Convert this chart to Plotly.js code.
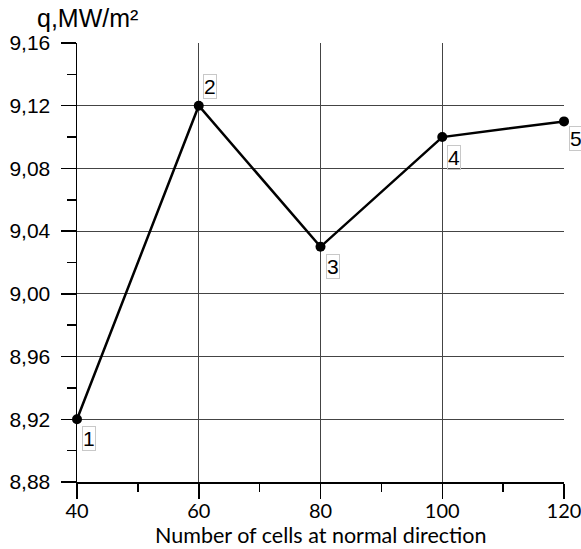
<!DOCTYPE html>
<html>
<head>
<meta charset="utf-8">
<script src="https://cdn.plot.ly/plotly-3.0.1.min.js"></script>
<style>html,body{margin:0;padding:0;background:#fff;}</style>
</head>
<body>
<div id="chart" style="width:581px;height:549px;"></div>
<script>
// Data
const cells = [40, 60, 80, 100, 120];
const heatFlux = [8.92, 9.12, 9.03, 9.10, 9.11];
const pointLabels = ['1', '2', '3', '4', '5'];
const xTitle = 'Number of cells at normal direction';
const yTitle = 'q,MW/m²';

// label placement (pixel shifts relative to each point): style only
const labelShift = [[12, -19], [11, 19], [12, -20], [12, -20], [12, -17]];

const trace = {
  x: cells,
  y: heatFlux,
  type: 'scatter',
  mode: 'lines+markers',
  line: {color: '#000', width: 2.5},
  marker: {color: '#000', size: 10},
  cliponaxis: false,
  hoverinfo: 'none'
};

const annotations = cells.map((c, i) => ({
  x: c, y: heatFlux[i], xref: 'x', yref: 'y',
  text: pointLabels[i], showarrow: false,
  xanchor: 'center', yanchor: 'middle',
  xshift: labelShift[i][0], yshift: labelShift[i][1],
  font: {family: 'Arial', size: 21, color: '#000'},
  bordercolor: '#c8c8c8', borderwidth: 1, borderpad: 0, bgcolor: 'rgba(255,255,255,0)'
}));

annotations.push({
  xref: 'paper', yref: 'paper', x: 0, y: 1, xshift: -42, yshift: 25,
  xanchor: 'left', yanchor: 'middle', showarrow: false,
  text: yTitle,
  font: {family: 'Arial', size: 25, color: '#000'}
});

annotations.push({
  xref: 'paper', yref: 'paper', x: 0.5, y: 0, yshift: -53,
  xanchor: 'center', yanchor: 'middle', showarrow: false,
  text: xTitle,
  font: {family: 'Lato', size: 21.5, color: '#000'}
});

const layout = {
  width: 581, height: 549,
  margin: {l: 77, r: 17, t: 43, b: 67},
  paper_bgcolor: '#fff', plot_bgcolor: '#fff',
  separators: ', ',
  showlegend: false,
  xaxis: {
    range: [40, 120], tickvals: cells, ticktext: cells.map(String),
    ticks: 'outside', ticklen: 15, tickwidth: 1.5, tickcolor: '#000',
    showline: true, linecolor: '#000', linewidth: 1.5,
    showgrid: true, gridcolor: '#444', gridwidth: 1,
    zeroline: false, automargin: false,
    ticklabeloverflow: 'allow',
    ticklabelstandoff: -5,
    minor: {dtick: 10, tick0: 40, ticks: 'outside', ticklen: 8, tickwidth: 1.5, tickcolor: '#000', showgrid: false},
    tickfont: {family: 'Lato', size: 20, color: '#000'},
    fixedrange: true
  },
  yaxis: {
    range: [8.88, 9.16], dtick: 0.04, tick0: 8.88, tickformat: '.2f',
    ticks: 'outside', ticklen: 15, tickwidth: 1.5, tickcolor: '#000',
    showline: true, linecolor: '#000', linewidth: 1.5,
    showgrid: true, gridcolor: '#444', gridwidth: 1,
    zeroline: false, automargin: false,
    ticklabelstandoff: 6,
    minor: {dtick: 0.02, tick0: 8.88, ticks: 'outside', ticklen: 9, tickwidth: 1.5, tickcolor: '#000', showgrid: false},
    tickfont: {family: 'Arial', size: 21, color: '#000'},
    fixedrange: true
  },
  annotations: annotations
};

Plotly.newPlot('chart', [trace], layout, {displayModeBar: false, staticPlot: true});
</script>
</body>
</html>
